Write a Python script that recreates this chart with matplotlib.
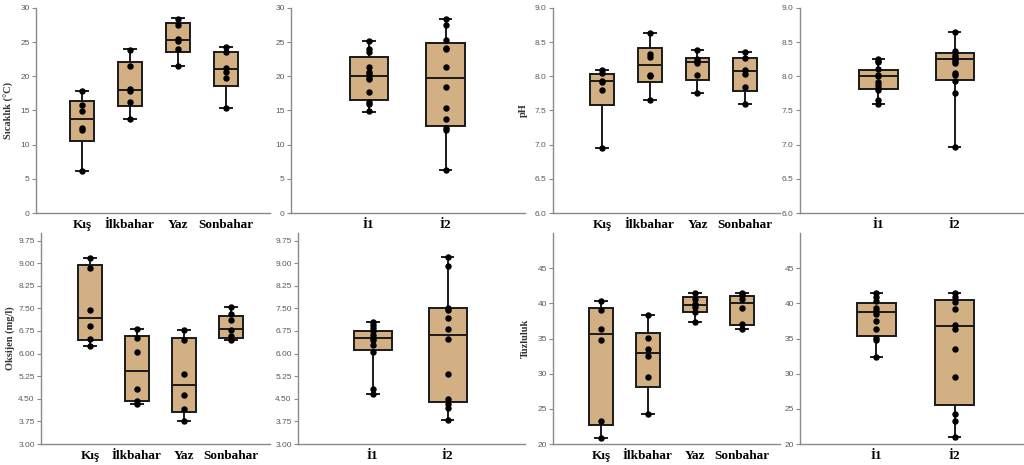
import matplotlib
matplotlib.use("Agg")
import matplotlib.pyplot as plt
import numpy as np

SEASONS = ["Kış", "İlkbahar", "Yaz", "Sonbahar"]
STATIONS = ["İ1", "İ2"]

# ── Sıcaklık (°C) ───────────────────────────────────────────────────────────
temp_season_pts = [
    [17.8, 15.8, 14.9, 12.4, 12.1, 6.2],
    [23.9, 21.5, 18.2, 17.9, 16.2, 13.8],
    [28.4, 27.5, 25.4, 25.2, 24.0, 21.5],
    [24.3, 23.5, 21.2, 20.7, 19.7, 15.3],
]
# (whislo, q1, med, q3, whishi)
temp_season_box = [
    (6.2, 10.6, 13.7, 16.4, 17.9),
    (13.8, 15.6, 18.0, 22.05, 23.95),
    (21.5, 23.5, 25.3, 27.75, 28.5),
    (15.3, 18.6, 21.0, 23.6, 24.3),
]
temp_station_pts = [
    [25.2, 24.0, 23.5, 21.4, 20.6, 20.3, 19.8, 19.6, 17.7, 16.2, 15.9, 14.9],
    [28.4, 27.5, 25.3, 24.2, 24.0, 21.3, 18.4, 15.3, 13.7, 12.5, 12.2, 6.25],
]
temp_station_box = [
    (14.8, 16.5, 20.0, 22.8, 25.2),
    (6.25, 12.75, 19.7, 24.9, 28.4),
]

# ── pH ──────────────────────────────────────────────────────────────────────
ph_season_pts = [
    [8.10, 8.05, 7.93, 7.91, 7.80, 6.95],
    [8.64, 8.32, 8.29, 8.02, 8.00, 7.65],
    [8.38, 8.25, 8.22, 8.20, 8.02, 7.75],
    [8.35, 8.27, 8.10, 8.04, 7.85, 7.60],
]
ph_season_box = [
    (6.95, 7.58, 7.93, 8.04, 8.10),
    (7.66, 7.91, 8.16, 8.41, 8.64),
    (7.75, 7.94, 8.21, 8.27, 8.38),
    (7.60, 7.79, 8.08, 8.27, 8.35),
]
ph_station_pts = [
    [8.25, 8.22, 8.21, 8.11, 8.02, 8.00, 7.92, 7.88, 7.83, 7.80, 7.65, 7.60],
    [8.65, 8.37, 8.31, 8.29, 8.26, 8.22, 8.20, 8.05, 8.02, 7.93, 7.76, 6.96],
]
ph_station_box = [
    (7.60, 7.81, 8.01, 8.10, 8.25),
    (6.96, 7.95, 8.25, 8.34, 8.65),
]

# ── Oksijen (mg/l) ──────────────────────────────────────────────────────────
oxy_season_pts = [
    [9.17, 8.85, 7.46, 6.92, 6.50, 6.26],
    [6.83, 6.53, 6.04, 4.81, 4.43, 4.32],
    [6.78, 6.46, 5.31, 4.63, 4.16, 3.76],
    [7.54, 7.32, 7.12, 6.77, 6.57, 6.44],
]
oxy_season_box = [
    (6.26, 6.44, 7.19, 8.93, 9.17),
    (4.32, 4.43, 5.43, 6.58, 6.83),
    (3.76, 4.07, 4.95, 6.52, 6.78),
    (6.44, 6.52, 6.83, 7.25, 7.54),
]
oxy_station_pts = [
    [7.06, 6.94, 6.85, 6.75, 6.62, 6.52, 6.44, 6.27, 6.06, 4.81, 4.66],
    [9.20, 8.89, 7.51, 7.46, 7.17, 6.82, 6.47, 5.32, 4.49, 4.32, 4.20, 3.80],
]
oxy_station_box = [
    (4.66, 6.13, 6.52, 6.75, 7.06),
    (3.80, 4.40, 6.62, 7.51, 9.20),
]

# ── Tuzluluk ────────────────────────────────────────────────────────────────
sal_season_pts = [
    [40.4, 39.1, 36.4, 34.8, 23.2, 20.85],
    [38.4, 35.05, 33.5, 32.45, 29.5, 24.2],
    [41.5, 40.55, 39.9, 39.45, 38.8, 37.4],
    [41.5, 41.2, 40.6, 39.3, 37.1, 36.4],
]
sal_season_box = [
    (20.85, 22.65, 35.6, 39.3, 40.4),
    (24.2, 28.1, 32.9, 35.8, 38.4),
    (37.4, 38.75, 39.7, 40.9, 41.5),
    (36.4, 36.85, 40.1, 41.1, 41.5),
]
sal_station_pts = [
    [41.5, 40.9, 40.4, 39.4, 38.95, 38.5, 37.5, 36.3, 35.1, 34.8, 32.4],
    [41.5, 40.95, 40.15, 39.2, 36.95, 36.4, 33.5, 29.5, 24.3, 23.3, 21.0],
]
sal_station_box = [
    (32.4, 35.3, 38.7, 40.1, 41.5),
    (21.0, 25.6, 36.76, 40.5, 41.5),
]

BOX_COLOR = "#D3AF84"
EDGE = "#1a1a1a"
SPINE = "#8a8a8a"


def draw(ax, labels, boxes, pts, xlim, ylim, yticks, ylabel=None, capw=0.25):
    stats = []
    for lab, (lo, q1, med, q3, hi) in zip(labels, boxes):
        stats.append(dict(label=lab, whislo=lo, q1=q1, med=med, q3=q3,
                          whishi=hi, fliers=[]))
    pos = np.arange(len(labels))
    ax.bxp(stats, positions=pos, widths=0.5, capwidths=capw,
           patch_artist=True, showfliers=False,
           boxprops=dict(facecolor=BOX_COLOR, edgecolor=EDGE, linewidth=1.4),
           medianprops=dict(color=EDGE, linewidth=1.4),
           whiskerprops=dict(color=EDGE, linewidth=1.4),
           capprops=dict(color=EDGE, linewidth=1.4))
    for p, vals in zip(pos, pts):
        ax.plot([p] * len(vals), vals, "o", color="black", markersize=3.6,
                zorder=5)

    ax.set_xlim(*xlim)
    ax.set_ylim(*ylim)
    ax.set_yticks(yticks)
    ax.set_xticks(pos)
    ax.set_xticklabels(labels, family="Liberation Serif", fontweight="bold",
                       fontsize=9.5, color="black")
    ax.tick_params(axis="x", length=0, pad=4)
    ax.tick_params(axis="y", length=3, width=0.8, color=SPINE,
                   labelsize=6, labelcolor="#5a5a5a", pad=1.5)
    for t in ax.get_yticklabels():
        t.set_family("Liberation Sans")
    for s in ["top", "right"]:
        ax.spines[s].set_visible(False)
    for s in ["left", "bottom"]:
        ax.spines[s].set_color(SPINE)
        ax.spines[s].set_linewidth(1.0)
    if ylabel:
        ax.set_ylabel(ylabel, family="Liberation Serif", fontweight="bold",
                      fontsize=7.5, color="#333333")


fig = plt.figure(figsize=(10.24, 4.65), dpi=100)
W, H = 1024, 465


def add(left, right, top, bottom):
    return fig.add_axes([left / W, 1 - bottom / H, (right - left) / W,
                         (bottom - top) / H])


ax1 = add(36, 270, 8, 213)
ax2 = add(291, 525, 8, 213)
ax3 = add(553, 780, 8, 213)
ax4 = add(800, 1024, 8, 213)
ax5 = add(41, 270, 233, 444)
ax6 = add(298, 525, 233, 444)
ax7 = add(553, 780, 233, 444)
ax8 = add(800, 1024, 233, 444)

t_ticks = np.arange(0, 31, 5)
ph_ticks = np.arange(6.0, 9.01, 0.5)
ox_ticks = np.arange(3.0, 9.76, 0.75)
sa_ticks = np.arange(20, 46, 5)

draw(ax1, SEASONS, temp_season_box, temp_season_pts, (-0.96, 3.92), (0, 30),
     t_ticks, "Sıcaklık (°C)")
draw(ax2, STATIONS, temp_station_box, temp_station_pts, (-1.01, 2.03), (0, 30),
     t_ticks, capw=0.15)
draw(ax3, SEASONS, ph_season_box, ph_season_pts, (-1.03, 3.73), (6.0, 9.0),
     ph_ticks, "pH")
draw(ax4, STATIONS, ph_station_box, ph_station_pts, (-1.03, 1.91), (6.0, 9.0),
     ph_ticks, capw=0.15)
draw(ax5, SEASONS, oxy_season_box, oxy_season_pts, (-1.04, 3.83), (3.0, 10.0),
     ox_ticks, "Oksijen (mg/l)")
draw(ax6, STATIONS, oxy_station_box, oxy_station_pts, (-1.0, 2.03), (3.0, 10.0),
     ox_ticks, capw=0.15)
draw(ax7, SEASONS, sal_season_box, sal_season_pts, (-1.02, 3.81), (20, 50),
     sa_ticks, "Tuzluluk")
draw(ax8, STATIONS, sal_station_box, sal_station_pts, (-0.98, 1.89), (20, 50),
     sa_ticks, capw=0.15)

ax1.yaxis.set_major_formatter(matplotlib.ticker.FormatStrFormatter("%d"))
ax2.yaxis.set_major_formatter(matplotlib.ticker.FormatStrFormatter("%d"))
for a in (ax3, ax4):
    a.yaxis.set_major_formatter(matplotlib.ticker.FormatStrFormatter("%.1f"))
for a in (ax5, ax6):
    a.yaxis.set_major_formatter(matplotlib.ticker.FormatStrFormatter("%.2f"))
ax1.yaxis.set_label_coords(-0.095, 0.5)
ax3.yaxis.set_label_coords(-0.11, 0.5)
ax5.yaxis.set_label_coords(-0.115, 0.5)
ax7.yaxis.set_label_coords(-0.10, 0.5)

fig.savefig("out.png", dpi=100)
